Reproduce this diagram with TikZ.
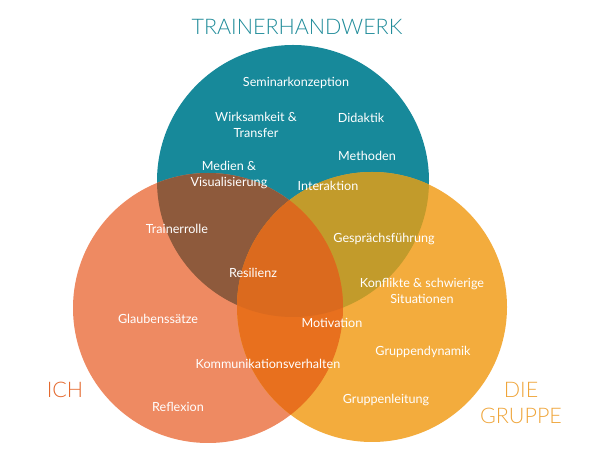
\documentclass[tikz,border=0pt]{standalone}
\usepackage{fontspec}
\setmainfont{Lato}
\newfontfamily\thinfont{Lato Light}
\definecolor{Teal}{HTML}{17899A}
\definecolor{Coral}{HTML}{EE8A62}
\definecolor{Amber}{HTML}{F3AC3D}
\definecolor{Umber}{HTML}{8E5A3C}
\definecolor{Olive}{HTML}{C29B2B}
\definecolor{Flame}{HTML}{E8701E}
\definecolor{Core}{HTML}{DB6A1E}
\definecolor{TealText}{HTML}{1F8B99}
\definecolor{CoralText}{HTML}{E4692E}
\definecolor{AmberText}{HTML}{EFA53A}
\tikzset{
  topic/.style={text=white,align=center,inner sep=0pt,font=\fontsize{12.6}{15.5}\selectfont},
  heading/.style={align=center,inner sep=0pt,font=\thinfont\fontsize{21.5}{26}\selectfont}
}

\begin{document}
\begin{tikzpicture}[x=1pt,y=1pt]
\useasboundingbox (0,0) rectangle (610,460);
% three circles
\fill[Teal] (293,279) circle (136);
\fill[Coral] (208,152) circle (135);
\fill[Amber] (372,153) circle (135);
% overlaps
\begin{scope}
  \clip (293,279) circle (136);
  \fill[Umber] (208,152) circle (135);
  \fill[Olive] (372,153) circle (135);
\end{scope}
\begin{scope}
  \clip (208,152) circle (135);
  \fill[Flame] (372,153) circle (135);
  \clip (293,279) circle (136);
  \fill[Core] (372,153) circle (135);
\end{scope}
% headings
\node[heading,text=TealText] (handwerk) at (297,433) {TRAINERHANDWERK};
\node[heading,text=CoralText] (ich) at (65,70) {ICH};
\node[heading,text=AmberText] (gruppe) at (521,57) {DIE\\GRUPPE};
% topics
\node[topic] (seminar) at (296,377) {Seminarkonzeption};
\node[topic] (wirksam) at (256,335) {Wirksamkeit \&\\Transfer};
\node[topic] (didaktik) at (361,342) {Didaktik};
\node[topic] (methoden) at (367,304) {Methoden};
\node[topic] (medien) at (229,285) {Medien \&\\Visualisierung};
\node[topic] (interaktion) at (328,274) {Interaktion};
\node[topic] (rolle) at (177,231) {Trainerrolle};
\node[topic] (resilienz) at (253,187) {Resilienz};
\node[topic] (glauben) at (158,141) {Glaubenssätze};
\node[topic] (kommunikation) at (268,96) {Kommunikationsverhalten};
\node[topic] (reflexion) at (178,53) {Reflexion};
\node[topic] (gespraech) at (384,221) {Gesprächsführung};
\node[topic] (konflikte) at (422,169) {Konflikte \& schwierige\\Situationen};
\node[topic] (motivation) at (332,137) {Motivation};
\node[topic] (dynamik) at (423,108) {Gruppendynamik};
\node[topic] (leitung) at (386,60) {Gruppenleitung};
\end{tikzpicture}
\end{document}
